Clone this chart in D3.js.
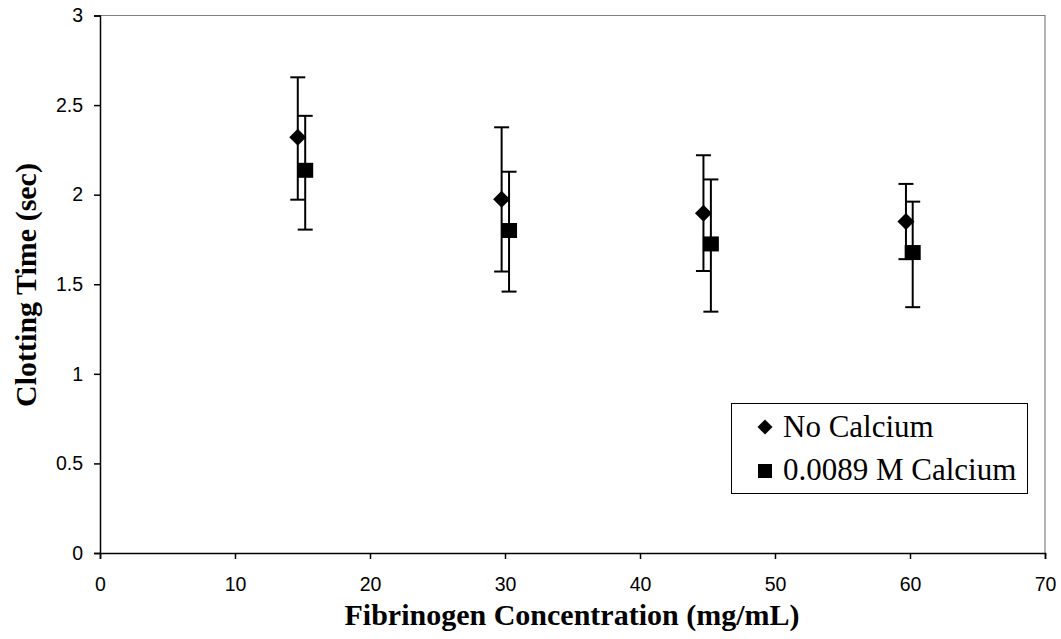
<!DOCTYPE html>
<html><head><meta charset="utf-8">
<script src="https://cdn.jsdelivr.net/npm/d3@7"></script>
<style>body{margin:0;background:#fff}</style>
</head><body>
<svg id="c" width="1061" height="639"></svg>
<script>
const noCaX = [14.65, 29.75, 44.7, 59.7];
const noCaY = [2.32, 1.974, 1.896, 1.85];
const noCaHi = [2.655, 2.376, 2.22, 2.06];
const noCaLo = [1.972, 1.571, 1.574, 1.64];
const caX = [15.2, 30.3, 45.25, 60.2];
const caY = [2.136, 1.80, 1.725, 1.677];
const caHi = [2.44, 2.128, 2.085, 1.961];
const caLo = [1.805, 1.459, 1.347, 1.372];
const xTicks = [0,10,20,30,40,50,60,70];
const yTicks = [0,0.5,1,1.5,2,2.5,3];
const seriesNames = ["No Calcium", "0.0089 M Calcium"];

const svg = d3.select("#c");
const L=100,R=1045,T=15.5,B=553;
const x = d3.scaleLinear().domain([0,70]).range([L,R]);
const y = d3.scaleLinear().domain([0,3]).range([B,T]);

svg.append("path").attr("d",`M${L},${T}H${R}V${B}`).attr("fill","none").attr("stroke","#808080").attr("stroke-width",1.2);

const xa = svg.append("g").attr("transform",`translate(0,${B})`)
  .call(d3.axisBottom(x).tickValues(xTicks).tickSize(6).tickPadding(18).tickFormat(d3.format("d")));
const ya = svg.append("g").attr("transform",`translate(${L},0)`)
  .call(d3.axisLeft(y).tickValues(yTicks).tickSize(6).tickPadding(11).tickFormat(d=>String(d)));
[xa,ya].forEach(g=>{
  g.attr("font-size",null).attr("font-family",null);
  g.selectAll("path,line").attr("stroke","#000").attr("stroke-width",1.5);
  g.selectAll("text").style("font-family","'Liberation Sans', Arial, sans-serif").style("font-size","19.5px").attr("fill","#000");
});

function errs(xs,hi,lo){
  const g = svg.append("g").attr("stroke","#000").attr("stroke-width",2);
  xs.forEach((xv,i)=>{
    const px=x(xv);
    g.append("line").attr("x1",px).attr("x2",px).attr("y1",y(hi[i])).attr("y2",y(lo[i]));
    [hi[i],lo[i]].forEach(v=>g.append("line").attr("x1",px-7.5).attr("x2",px+7.5).attr("y1",y(v)).attr("y2",y(v)));
  });
}
errs(noCaX,noCaHi,noCaLo);
errs(caX,caHi,caLo);

const dia = (cx,cy,r)=>`M${cx},${cy-r}L${cx+r},${cy}L${cx},${cy+r}L${cx-r},${cy}Z`;
noCaX.forEach((xv,i)=>svg.append("path").attr("d",dia(x(xv),y(noCaY[i]),8.5)).attr("fill","#000"));
caX.forEach((xv,i)=>svg.append("rect").attr("x",x(xv)-8).attr("y",y(caY[i])-7.5).attr("width",16).attr("height",15).attr("fill","#000"));

const serif = "'Liberation Serif', 'Times New Roman', serif";
svg.append("text").attr("x",572).attr("y",625).attr("text-anchor","middle")
  .style("font-family",serif).style("font-weight","bold").style("font-size","30px")
  .text("Fibrinogen Concentration (mg/mL)");
svg.append("text").attr("transform",`translate(36,285) rotate(-90)`).attr("text-anchor","middle")
  .style("font-family",serif).style("font-weight","bold").style("font-size","30px")
  .text("Clotting Time (sec)");

const lg = svg.append("g");
lg.append("rect").attr("x",731.5).attr("y",403.5).attr("width",296).attr("height",90).attr("fill","#fff").attr("stroke","#000").attr("stroke-width",1);
lg.append("path").attr("d",dia(765,427,7.5)).attr("fill","#000");
lg.append("rect").attr("x",758).attr("y",464).attr("width",14).attr("height",14).attr("fill","#000");
seriesNames.forEach((n,i)=>lg.append("text").attr("x",783).attr("y",437+i*43)
  .style("font-family",serif).style("font-size","31px").attr("fill","#000").text(n));
</script>
</body></html>
